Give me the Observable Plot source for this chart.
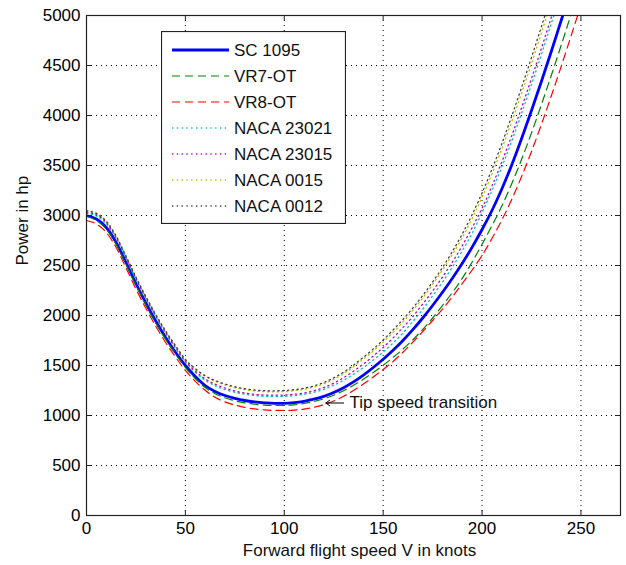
<!DOCTYPE html>
<html>
<head>
<meta charset="utf-8">
<script src="https://cdn.jsdelivr.net/npm/d3@7"></script>
<script src="https://cdn.jsdelivr.net/npm/@observablehq/plot@0.6"></script>
<style>
  html, body { margin: 0; padding: 0; background: #fff; }
  #wrap { position: relative; width: 626px; height: 565px; font-family: "Liberation Sans", Arial, sans-serif; }
  #legend { position: absolute; left: 161px; top: 31px; }
</style>
</head>
<body>
<div id="wrap"><div id="chart"></div><div id="legend"></div></div>
<script>
// ---- data ----
const speed = [0,5,10,15,20,25,30,35,40,45,50,55,60,65,70,75,80,85,90,95,100,105,110,115,120,125,130,135,140,145,150,155,160,165,170,175,180,185,190,195,200,205,210,215,220,225,230,235,240,245,250];

const sc1095 = [3000,2965,2880,2730,2530,2320,2125,1945,1780,1632,
  1500,1390,1300,1240,1200,1172,1150,1136,1127,1122,
  1122,1128,1142,1163,1192,1230,1278,1336,1404,1480,
  1562,1652,1750,1858,1975,2100,2232,2372,2522,2684,
  2860,3050,3265,3505,3770,4050,4340,4640,4950,5260];

const vr7ot = [2990,2950,2865,2712,2510,2300,2105,1925,1762,1615,
  1480,1370,1280,1218,1177,1148,1127,1113,1104,1100,
  1101,1107,1120,1140,1167,1203,1248,1302,1363,1430,
  1502,1580,1664,1757,1860,1975,2100,2230,2372,2535,
  2712,2898,3094,3318,3562,3826,4108,4400,4702,5012];

const vr8ot = [2950,2915,2830,2680,2475,2265,2072,1893,1730,1585,
  1452,1342,1252,1182,1136,1105,1081,1066,1056,1051,
  1050,1054,1064,1082,1108,1145,1192,1250,1314,1385,
  1460,1540,1633,1733,1840,1950,2064,2187,2320,2455,
  2600,2770,2955,3160,3390,3640,3910,4195,4490,4795,5105];

const naca23021 = [3020,2995,2915,2770,2568,2360,2165,1985,1820,1672,
  1535,1432,1352,1298,1260,1232,1212,1200,1192,1190,
  1192,1198,1212,1232,1262,1303,1352,1412,1480,1555,
  1635,1725,1825,1940,2062,2195,2335,2485,2648,2824,
  3030,3248,3486,3744,4022,4311,4610,4919,5230];

const naca23015 = [3030,3008,2928,2782,2580,2372,2178,1998,1832,1684,
  1545,1445,1366,1313,1275,1245,1225,1212,1205,1203,
  1205,1212,1225,1248,1280,1323,1378,1443,1515,1595,
  1680,1775,1880,1990,2115,2245,2385,2535,2698,2879,
  3072,3294,3536,3798,4079,4370,4671,4981,5290];

const naca0015 = [3050,3025,2945,2798,2596,2388,2194,2014,1848,1700,
  1562,1466,1392,1342,1305,1278,1258,1245,1238,1237,
  1240,1248,1262,1285,1318,1362,1418,1488,1565,1645,
  1735,1830,1935,2050,2175,2310,2455,2610,2780,2970,
  3182,3414,3666,3938,4224,4520,4826,5136];

const naca0012 = [3045,3020,2940,2792,2590,2382,2188,2008,1844,1697,
  1560,1468,1398,1350,1315,1288,1268,1255,1248,1247,
  1250,1258,1273,1296,1330,1376,1433,1503,1582,1665,
  1755,1855,1960,2075,2200,2335,2480,2640,2815,3010,
  3226,3462,3718,3994,4282,4580,4888,5198];

const seriesNames = ["SC 1095","VR7-OT","VR8-OT","NACA 23021","NACA 23015","NACA 0015","NACA 0012"];
const seriesValues = [sc1095, vr7ot, vr8ot, naca23021, naca23015, naca0015, naca0012];

const xDomain = [0, 270];
const yDomain = [0, 5000];
const xTicks = [0,50,100,150,200,250];
const yTicks = [0,500,1000,1500,2000,2500,3000,3500,4000,4500,5000];

const xLabel = "Forward flight speed V in knots";
const yLabel = "Power in hp";

const annoText = ["Tip speed transition"];
const annoTip = [121, 1125];   // arrow points here (speed, power)
const annoTail = [130, 1125];
const annoTextAt = [133, 1125];

// ---- styles ----
const styles = [
  {stroke: "#0000ff", width: 2.8, dash: null},
  {stroke: "#008000", width: 1.2, dash: "8,5"},
  {stroke: "#ff0000", width: 1.2, dash: "8,5"},
  {stroke: "#00bfbf", width: 1.3, dash: "1.3,3.5"},
  {stroke: "#bf00bf", width: 1.3, dash: "1.3,3.5"},
  {stroke: "#bfbf00", width: 1.3, dash: "1.3,3.5"},
  {stroke: "#404040", width: 1.3, dash: "1.3,3.5"}
];

const FONT = "'Liberation Sans', Arial, sans-serif";

const lineMarks = seriesValues.map((vals, k) => {
  const rows = vals.map((v, i) => ({speed: speed[i], power: v}));
  const st = styles[k];
  const opts = {x: "speed", y: "power", stroke: st.stroke, strokeWidth: st.width, curve: "monotone-x", clip: true};
  if (st.dash) opts.strokeDasharray = st.dash;
  return Plot.line(rows, opts);
});

const chart = Plot.plot({
  width: 626,
  height: 565,
  marginLeft: 86,
  marginRight: 6,
  marginTop: 15,
  marginBottom: 50,
  style: {fontFamily: FONT, fontSize: "17px", background: "white", color: "#000", overflow: "visible"},
  x: {domain: xDomain, ticks: xTicks, tickSize: 0, tickPadding: 6, label: null, tickFormat: d => String(d)},
  y: {domain: yDomain, ticks: yTicks, tickSize: 0, tickPadding: 6, label: null, tickFormat: d => String(d)},
  marks: [
    Plot.ruleX(xTicks, {x: d => d, stroke: "#000", strokeWidth: 1, strokeDasharray: "1,4", strokeOpacity: 1}),
    Plot.ruleY(yTicks, {y: d => d, stroke: "#000", strokeWidth: 1, strokeDasharray: "1,4", strokeOpacity: 1}),
    // inward tick marks on all four sides
    Plot.ruleX(xTicks, {x: d => d, y1: yDomain[0], y2: yDomain[0], insetBottom: 5, stroke: "#222"}),
    Plot.ruleX(xTicks, {x: d => d, y1: yDomain[1], y2: yDomain[1], insetTop: 5, stroke: "#222"}),
    Plot.ruleY(yTicks, {y: d => d, x1: xDomain[0], x2: xDomain[0], insetLeft: 5, stroke: "#222"}),
    Plot.ruleY(yTicks, {y: d => d, x1: xDomain[1], x2: xDomain[1], insetRight: 5, stroke: "#222"}),
    ...lineMarks,
    Plot.frame({stroke: "#222", strokeWidth: 1.2}),
    Plot.arrow([0], {x1: annoTail[0], y1: annoTail[1], x2: annoTip[0], y2: annoTip[1], stroke: "#000", strokeWidth: 1, headLength: 7, headAngle: 70}),
    Plot.text(annoText, {x: annoTextAt[0], y: annoTextAt[1], text: d => d, textAnchor: "start", fontSize: 17, fill: "#111"}),
    Plot.text([xLabel], {frameAnchor: "bottom", dx: 6, dy: 40, text: d => d, fontSize: 17, fill: "#111"}),
    Plot.text([yLabel], {frameAnchor: "left", dx: -64, rotate: -90, text: d => d, fontSize: 17, fill: "#111"})
  ]
});
document.getElementById("chart").appendChild(chart);

// ---- legend (overlay box) ----
const lw = 185, lh = 193, rowH = 26, row0 = 19;
let svg = `<svg width="${lw}" height="${lh}" xmlns="http://www.w3.org/2000/svg" style="display:block">`;
svg += `<rect x="0.5" y="0.5" width="${lw-1}" height="${lh-1}" fill="white" stroke="#222" stroke-width="1.2"/>`;
seriesNames.forEach((name, k) => {
  const y = row0 + k * rowH;
  const st = styles[k];
  svg += `<line x1="11" x2="68" y1="${y}" y2="${y}" stroke="${st.stroke}" stroke-width="${st.width}"${st.dash ? ` stroke-dasharray="${st.dash}"` : ""}/>`;
  svg += `<text x="73" y="${y}" dy="0.35em" font-family="${FONT.replace(/'/g, "")}" font-size="17" fill="#111">${name}</text>`;
});
svg += `</svg>`;
document.getElementById("legend").innerHTML = svg;
</script>
</body>
</html>
